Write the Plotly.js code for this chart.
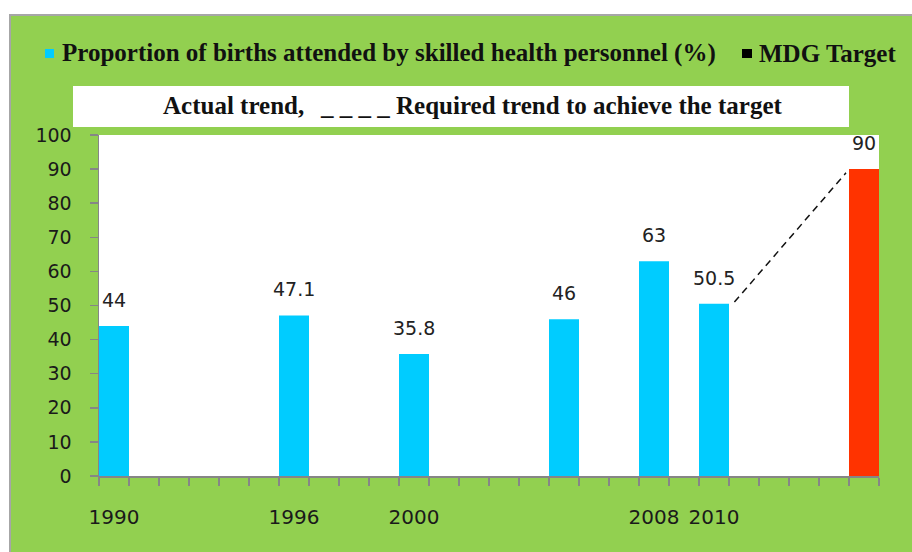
<!DOCTYPE html>
<html>
<head>
<meta charset="utf-8">
<script src="https://cdn.plot.ly/plotly-3.0.1.min.js"></script>
<style>
  html, body { margin: 0; padding: 0; background: #ffffff; width: 912px; height: 552px; overflow: hidden; }
  #frame { position: absolute; left: 9px; top: 14px; border-left: 2px solid #a6a6a6; border-top: 2px solid #a6a6a6; width: 901px; height: 536px; background: #92D050; }
  #chart { width: 901px; height: 536px; }
</style>
</head>
<body>
<div id="frame"><div id="chart"></div></div>
<script>
// ---- data ----
const actualYears  = [1990, 1996, 2000, 2005, 2008, 2010];
const actualValues = [44, 47.1, 35.8, 46, 63, 50.5];
const targetYears  = [2015];
const targetValues = [90];
const trendX = [2010.68, 2014.4];
const trendY = [51, 88.9];
const tickYears  = [1990, 1996, 2000, 2008, 2010];
const tickLabels = ['1990', '1996', '2000', '2008', '2010'];
const seriesName = 'Proportion of births attended by skilled health personnel (%)';
const targetName = 'MDG Target';
const noteLeft = 'Actual trend,';
const noteRight = '_ _ _ _ Required trend to achieve the target';

// ---- geometry helpers (page pixels -> paper coords) ----
const W = 901, H = 536, M = {l: 88, r: 33, t: 119, b: 76};
const offX = 11, offY = 16;
const pw = W - M.l - M.r, ph = H - M.t - M.b;
const PX = px => (px - offX - M.l) / pw;
const PY = py => 1 - (py - offY - M.t) / ph;

const green = '#92D050', cyan = '#00CCFF', red = '#FF3300', axisGray = '#868686';
const serif = {family: 'Liberation Serif, serif', size: 25, color: '#111'};
const sans = 'DejaVu Sans, Verdana, sans-serif';

const traces = [
  {type: 'bar', x: actualYears, y: actualValues, width: 1, name: seriesName,
   marker: {color: cyan}, showlegend: false, hoverinfo: 'x+y'},
  {type: 'bar', x: targetYears, y: targetValues, width: 1, name: targetName,
   marker: {color: red}, showlegend: false, hoverinfo: 'x+y'},
  {type: 'scatter', mode: 'lines', x: trendX, y: trendY, showlegend: false, hoverinfo: 'skip',
   line: {color: '#111', width: 1.5, dash: '7px,5px'}}
];

const annotations = [];
const allX = actualYears.concat(targetYears), allY = actualValues.concat(targetValues);
allX.forEach((x, i) => annotations.push({
  x: x, y: allY[i], xref: 'x', yref: 'y', text: String(allY[i]), showarrow: false,
  yanchor: 'bottom', xanchor: 'center', yshift: 13,
  font: {family: sans, size: 19, color: '#222'}
}));
annotations.push(
  {xref: 'paper', yref: 'paper', x: PX(60), y: PY(53), xanchor: 'left', yanchor: 'middle',
   text: '<b>' + seriesName + '</b>', showarrow: false, font: serif},
  {xref: 'paper', yref: 'paper', x: PX(757), y: PY(53), xanchor: 'left', yanchor: 'middle',
   text: '<b>' + targetName + '</b>', showarrow: false, font: serif},
  {xref: 'paper', yref: 'paper', x: PX(161), y: PY(105), xanchor: 'left', yanchor: 'middle',
   text: '<b>' + noteLeft + '</b>', showarrow: false, font: serif},
  {xref: 'paper', yref: 'paper', x: PX(318), y: PY(105), xanchor: 'left', yanchor: 'middle',
   text: '<b>' + noteRight + '</b>', showarrow: false, font: serif}
);

const shapes = [
  {type: 'rect', xref: 'paper', yref: 'paper', x0: PX(73), x1: PX(849), y0: PY(127), y1: PY(86),
   fillcolor: '#ffffff', line: {width: 0}, layer: 'below'},
  {type: 'rect', xref: 'paper', yref: 'paper', x0: PX(45), x1: PX(54), y0: PY(58), y1: PY(49),
   fillcolor: cyan, line: {width: 0}},
  {type: 'rect', xref: 'paper', yref: 'paper', x0: PX(742), x1: PX(752), y0: PY(58), y1: PY(49),
   fillcolor: '#000000', line: {width: 0}}
];

const layout = {
  width: W, height: H, margin: M,
  paper_bgcolor: green, plot_bgcolor: '#ffffff',
  barmode: 'overlay', showlegend: false,
  xaxis: {
    range: [1989.5, 2015.5], tickmode: 'array', tickvals: tickYears, ticktext: tickLabels,
    ticks: '', showgrid: false, zeroline: false, showline: true, linecolor: axisGray, linewidth: 1.5,
    ticklabelstandoff: 22, tickfont: {family: sans, size: 20, color: '#1a1a1a'},
    minor: {tickmode: 'linear', tick0: 1989.5, dtick: 1, ticks: 'outside', ticklen: 8,
            tickwidth: 1.5, tickcolor: axisGray, showgrid: false}
  },
  yaxis: {
    range: [0, 100], tickmode: 'linear', tick0: 0, dtick: 10, ticks: 'outside', ticklen: 8,
    tickwidth: 1.5, tickcolor: axisGray, showgrid: false, zeroline: false, showline: true,
    linecolor: axisGray, linewidth: 1.5, ticklabelstandoff: 14,
    tickfont: {family: sans, size: 19, color: '#1a1a1a'}
  },
  annotations: annotations, shapes: shapes
};

Plotly.newPlot('chart', traces, layout, {displayModeBar: false, staticPlot: true});
</script>
</body>
</html>
